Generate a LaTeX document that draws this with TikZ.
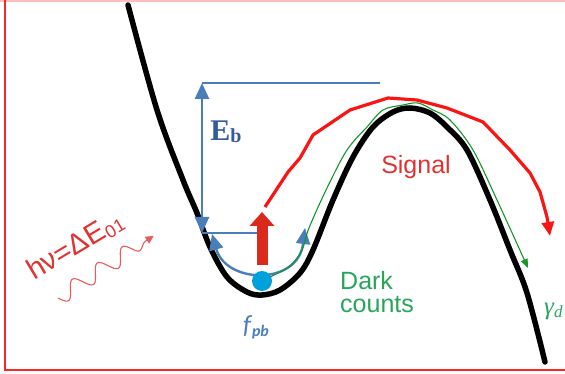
\documentclass[tikz,border=0pt]{standalone}
\usepackage{fontspec}
\setmainfont{Liberation Sans}
\newfontfamily\ebfont{Liberation Serif}
\newfontfamily\fpbfont{Carlito}
\usetikzlibrary{arrows.meta}
\definecolor{barblue}{RGB}{74,126,187}
\definecolor{ebblue}{RGB}{52,92,150}
\definecolor{sigred}{RGB}{250,20,20}
\definecolor{txtred}{RGB}{225,50,50}
\definecolor{uparrowred}{RGB}{218,42,28}
\definecolor{darkgreen}{RGB}{20,150,40}
\definecolor{txtgreen}{RGB}{40,165,90}
\definecolor{dotcyan}{RGB}{0,160,220}
\begin{document}
\begin{tikzpicture}[x=1pt,y=-1pt,
    bluetip/.tip={Triangle[width=14pt,length=16pt]},
    lbl/.style={inner sep=0pt, align=left}]
    \useasboundingbox (0,0) rectangle (565,374);
    \clip (0,0) rectangle (565,374);
    % Frame
    \draw[red!25, line width=1.5] (0,0.8) -- (565,0.8);
    \draw[red!85!white, line width=1.6] (5,0) -- (5,370) -- (565,370);
    % Potential curve
    \draw[line width=5.5, line cap=round] plot[smooth, tension=0.55] coordinates {
        (128,5) (157,110) (183,180) (197,213) (210,247) (227,277) (247,292)
        (262,295) (280,290) (300,273) (313,250) (333,200) (353,157) (373,127)
        (393,112) (410,108) (430,113) (447,127) (467,150) (490,200) (510,250)
        (527,293) (545,362)};
    % Barrier height
    \coordinate (top) at (202,83);
    \coordinate (bot) at (202,233);
    \draw[barblue, line width=1.3] (top) -- (380,83);
    \draw[barblue, line width=1.3] (bot) -- (263,233);
    \draw[barblue, line width=2.6, bluetip-bluetip] (top) -- (bot);
    \node[lbl, text=ebblue] (eb) at (226,132) {\ebfont\bfseries\fontsize{30}{30}\selectfont E\raisebox{-2pt}{\fontsize{20}{20}\selectfont b}};
    % Oscillation in the well
    \draw[barblue, line width=2.4, bluetip-bluetip] (212,234) .. controls (226,284) and (298,286) .. (305,228);
    \fill[dotcyan] (262,281) circle (10);
    \node[lbl, text=barblue] (fpb) at (256,327) {\fpbfont\itshape\fontsize{26}{26}\selectfont f\kern1pt\raisebox{-3pt}{\bfseries\fontsize{16}{16}\selectfont pb}};
    % Excitation
    \draw[uparrowred, line width=11, -{Triangle[width=24pt,length=14pt]}] (262,265) -- (262,212);
    % Photon
    \begin{scope}[shift={(58,298)}, rotate=33]
        \draw[txtred!80!white, line width=1.1, -{Triangle[width=8pt,length=8pt]}]
            plot[smooth, domain=0:104, samples=80] (\x,{8*sin(\x*12.1)*min(1,(104-\x)/14)}) -- (114,0);
    \end{scope}
    \node[lbl, anchor=base west, text=txtred, rotate=31] (photon) at (34,281) {\fontsize{29}{29}\selectfont hν=ΔE\raisebox{-3pt}{\fontsize{18}{18}\selectfont 01}};
    % Signal path
    \draw[sigred, line width=3.2, line join=round, -{Triangle[width=12pt,length=14pt]}]
        (265,207) -- (288,172) -- (300,158) -- (313,135) -- (350,110) -- (388,98) -- (417,100)
        -- (447,108) -- (483,122) -- (510,150) -- (530,173) -- (540,192) -- (547,217) -- (550,236);
    \node[lbl, text=txtred] (signal) at (416,167) {\fontsize{25}{25}\selectfont Signal};
    % Dark counts path
    \draw[darkgreen, line width=1.1, -{Triangle[width=7pt,length=9pt]}] plot[smooth, tension=0.55] coordinates {
        (270,277) (290,266) (302,250) (309,228) (327,188) (347,150) (367,127)
        (383,110) (403,105) (418,103) (433,110) (450,120) (473,150) (497,200) (528,268)};
    \node[lbl, anchor=west, text=txtgreen, font=\fontsize{25}{23}\selectfont] (dark) at (340,292) {Dark\\counts};
    \node[lbl, anchor=west, text=txtgreen] (gamma) at (544,311) {\ebfont\itshape\fontsize{25}{25}\selectfont γ\raisebox{-3pt}{\fontsize{17}{17}\selectfont d}};
\end{tikzpicture}
\end{document}
